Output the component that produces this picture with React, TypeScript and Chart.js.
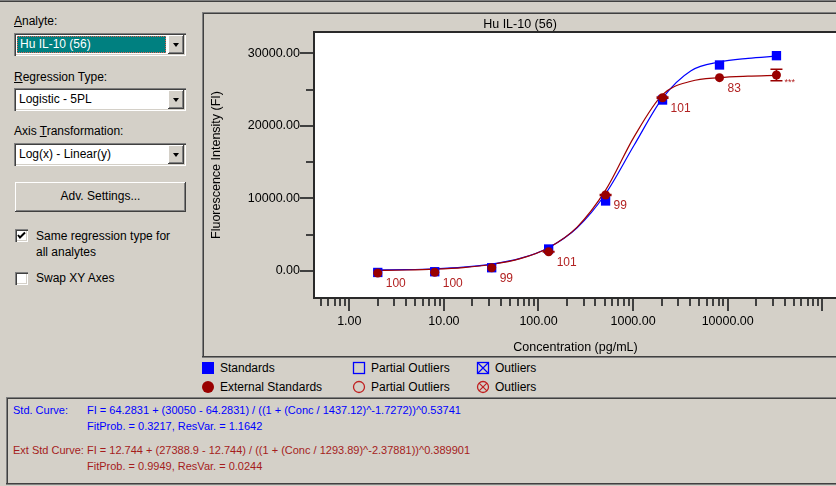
import React, { useEffect, useRef } from 'react';
import { Chart, registerables } from 'chart.js';

Chart.register(...registerables);

// ---------- data ----------
const concentrations = [2, 8, 32, 128, 512, 2048, 8192, 32768];
const standardsFI = [-200, -100, 450, 3030, 9650, 23560, 28390, 29670];
const externalFI = [-280, -180, 455, 2660, 10470, 23880, 26640, 27010];
const externalErr = [0, 0, 0, 40, 60, 80, 0, 800];
const recoveryLabels = ['100', '100', '99', '101', '99', '101', '83', '***'];

const curveConc = [1.8, 4, 8, 16, 32, 64, 128, 256, 512, 1024, 2048, 4096, 8192, 16384, 32768];
const stdCurveFI = [125, 192, 307, 525, 942, 1730, 3216, 5952, 10648, 17321, 23821, 27600, 28800, 29300, 29600];
const extCurveFI = [74, 141, 257, 478, 898, 1696, 3211, 6055, 11136, 18482, 24300, 26150, 26650, 26850, 26950];

const xMajorTicks = [1, 10, 100, 1000, 10000, 100000];
const xLabeledTicks = [1, 10, 100, 1000, 10000];
const xMinorMultipliers = [2, 3, 4, 5, 6, 7, 8, 9];
const xDecades = [0.1, 1, 10, 100, 1000, 10000];
const yMajorTicks = [0, 10000, 20000, 30000];
const yMinorTicks = [5000, 15000, 25000];

const X_MIN = 0.434;
const X_MAX = 139600;
const Y_MIN = -3583;
const Y_MAX = 32796;

const FONT = '"Liberation Sans", Arial, sans-serif';
const FACE = '#d4d0c8';
const DARK = '#404040';
const SHADOW = '#808080';
const STD_BLUE = '#0000ff';
const EXT_RED = '#990000';
const LABEL_RED = '#b22222';

function buildXTicks() {
  const list: { value: number; major: boolean }[] = [];
  xMajorTicks.forEach((v) => {
    if (v >= X_MIN && v <= X_MAX) list.push({ value: v, major: true });
  });
  xDecades.forEach((d) => {
    xMinorMultipliers.forEach((m) => {
      const v = d * m;
      if (v >= X_MIN && v <= X_MAX) list.push({ value: v, major: false });
    });
  });
  list.sort((a, b) => a.value - b.value);
  return list;
}

function buildYTicks() {
  const list: { value: number; major: boolean }[] = [];
  yMajorTicks.forEach((v) => list.push({ value: v, major: true }));
  yMinorTicks.forEach((v) => list.push({ value: v, major: false }));
  list.sort((a, b) => a.value - b.value);
  return list;
}

const framePlugin = {
  id: 'frame',
  beforeDraw(chart: any) {
    const { ctx, chartArea } = chart;
    ctx.save();
    ctx.fillStyle = FACE;
    ctx.fillRect(0, 0, chart.width, chart.height);
    ctx.fillStyle = '#ffffff';
    ctx.fillRect(chartArea.left, chartArea.top, chartArea.right - chartArea.left, chartArea.bottom - chartArea.top);
    ctx.restore();
  },
  afterDatasetsDraw(chart: any) {
    const { ctx } = chart;
    const xs = chart.scales.x;
    const ys = chart.scales.y;
    ctx.save();
    ctx.strokeStyle = EXT_RED;
    ctx.lineWidth = 1.5;
    concentrations.forEach((c, i) => {
      const e = externalErr[i];
      if (!e) return;
      const px = xs.getPixelForValue(c);
      const y1 = ys.getPixelForValue(externalFI[i] - e);
      const y2 = ys.getPixelForValue(externalFI[i] + e);
      ctx.beginPath();
      ctx.moveTo(px, y1);
      ctx.lineTo(px, y2);
      ctx.moveTo(px - 6, y1);
      ctx.lineTo(px + 6, y1);
      ctx.moveTo(px - 6, y2);
      ctx.lineTo(px + 6, y2);
      ctx.stroke();
    });
    ctx.restore();
  },
  afterDraw(chart: any) {
    const { ctx, chartArea } = chart;
    const { left, top, right, bottom } = chartArea;
    const xs = chart.scales.x;
    const ys = chart.scales.y;
    ctx.save();
    // plot box border
    ctx.fillStyle = '#2a2a2a';
    ctx.fillRect(left - 2, top - 2, right - left + 4, 2);
    ctx.fillRect(left - 2, top - 2, 2, bottom - top + 4);
    ctx.fillRect(left - 2, bottom, right - left + 4, 2);
    // tick marks
    ctx.fillStyle = DARK;
    buildXTicks().forEach((t) => {
      const px = Math.round(xs.getPixelForValue(t.value));
      ctx.fillRect(px - 1, bottom + 2, 2, t.major ? 12 : 7);
    });
    buildYTicks().forEach((t) => {
      const py = Math.round(ys.getPixelForValue(t.value));
      const len = t.major ? 13 : 7;
      ctx.fillRect(left - 2 - len, py - 1, len, 2);
    });
    // recovery labels
    ctx.fillStyle = LABEL_RED;
    ctx.textAlign = 'left';
    ctx.textBaseline = 'middle';
    concentrations.forEach((c, i) => {
      const px = xs.getPixelForValue(c);
      const py = ys.getPixelForValue(externalFI[i]);
      const txt = recoveryLabels[i];
      if (txt === '***') {
        ctx.font = '9px ' + FONT;
        ctx.fillText(txt, px + 8, py + 8);
      } else {
        ctx.font = '12px ' + FONT;
        ctx.fillText(txt, px + 8, py + 11);
      }
    });
    ctx.restore();
  },
};

function ChartPanel() {
  const canvasRef = useRef<HTMLCanvasElement>(null);
  useEffect(() => {
    const canvas = canvasRef.current;
    if (!canvas) return;
    Chart.defaults.font.family = FONT;
    const xTicks = buildXTicks();
    const yTicks = buildYTicks();
    const chart = new Chart(canvas, {
      type: 'scatter',
      data: {
        datasets: [
          {
            type: 'scatter',
            label: 'External Standards',
            data: concentrations.map((c, i) => ({ x: c, y: externalFI[i] })),
            pointStyle: 'circle',
            pointRadius: 4.5,
            backgroundColor: EXT_RED,
            borderColor: EXT_RED,
            borderWidth: 0,
          },
          {
            type: 'scatter',
            label: 'Standards',
            data: concentrations.map((c, i) => ({ x: c, y: standardsFI[i] })),
            pointStyle: 'rect',
            pointRadius: 6.6,
            backgroundColor: STD_BLUE,
            borderColor: STD_BLUE,
            borderWidth: 0,
          },
          {
            type: 'line',
            label: 'Ext Std Curve',
            data: curveConc.map((c, i) => ({ x: c, y: extCurveFI[i] })),
            borderColor: '#a00000',
            borderWidth: 1.2,
            pointRadius: 0,
            cubicInterpolationMode: 'monotone',
            fill: false,
          },
          {
            type: 'line',
            label: 'Std Curve',
            data: curveConc.map((c, i) => ({ x: c, y: stdCurveFI[i] })),
            borderColor: STD_BLUE,
            borderWidth: 1.2,
            pointRadius: 0,
            cubicInterpolationMode: 'monotone',
            fill: false,
          },
        ],
      } as any,
      options: {
        animation: false,
        responsive: false,
        events: [],
        layout: { padding: { left: 0, right: 28, top: 0, bottom: 0 } },
        plugins: {
          legend: { display: false },
          tooltip: { enabled: false },
          title: {
            display: true,
            text: 'Hu IL-10 (56)',
            color: '#000',
            font: { size: 12.5, weight: 'normal', family: FONT },
            padding: { top: 3, bottom: 1 },
          },
        },
        scales: {
          x: {
            type: 'logarithmic',
            min: X_MIN,
            max: X_MAX,
            afterBuildTicks: (s: any) => {
              s.ticks = xTicks.map((t) => ({ value: t.value, major: t.major }));
            },
            afterFit: (s: any) => {
              s.height = 59;
            },
            ticks: {
              autoSkip: false,
              maxRotation: 0,
              minRotation: 0,
              padding: 0,
              color: '#000',
              font: { size: 12.5 },
              callback: (v: any) => (xLabeledTicks.indexOf(Number(v)) >= 0 ? Number(v).toFixed(2) : ''),
            },
            grid: { display: true, drawOnChartArea: false, drawTicks: true, tickLength: 17, color: 'rgba(0,0,0,0)' },
            border: { display: false },
            title: {
              display: true,
              text: 'Concentration (pg/mL)',
              color: '#000',
              font: { size: 12.5 },
              padding: { top: 0, bottom: 0.5 },
            },
          },
          y: {
            type: 'linear',
            min: Y_MIN,
            max: Y_MAX,
            afterBuildTicks: (s: any) => {
              s.ticks = yTicks.map((t) => ({ value: t.value, major: t.major }));
            },
            afterFit: (s: any) => {
              s.width = 111;
            },
            ticks: {
              autoSkip: false,
              padding: 0,
              color: '#000',
              font: { size: 12.5 },
              callback: (v: any) => (yMajorTicks.indexOf(Number(v)) >= 0 ? Number(v).toFixed(2) : ''),
            },
            grid: { display: true, drawOnChartArea: false, drawTicks: true, tickLength: 15, color: 'rgba(0,0,0,0)' },
            border: { display: false },
            title: {
              display: true,
              text: 'Fluorescence Intensity (FI)',
              color: '#000',
              font: { size: 12.5 },
              padding: { top: 5.5, bottom: 0 },
            },
          },
        },
      } as any,
      plugins: [framePlugin],
    });
    return () => chart.destroy();
  }, []);
  return (
    <div style={{ position: 'absolute', left: 204, top: 14, width: 632, height: 342, overflow: 'hidden' }}>
      <canvas ref={canvasRef} width={660} height={342} style={{ width: 660, height: 342, display: 'block' }} />
    </div>
  );
}

const box = (l: number, t: number, w: number, h: number, bg: string) => (
  <div style={{ position: 'absolute', left: l, top: t, width: w, height: h, background: bg }} />
);

function Text(props: { left: number; cy: number; children: any; color?: string; size?: number }) {
  const lh = 14;
  return (
    <div
      style={{
        position: 'absolute',
        left: props.left,
        top: props.cy - lh / 2,
        lineHeight: lh + 'px',
        whiteSpace: 'nowrap',
        color: props.color || '#000',
        fontSize: props.size || 12,
      }}
    >
      {props.children}
    </div>
  );
}

const SUNKEN = 'inset 1px 1px ' + SHADOW + ', inset 2px 2px ' + DARK + ', inset -1px -1px #ffffff, inset -2px -2px ' + FACE;
const RAISED = 'inset -1px -1px ' + DARK + ', inset 1px 1px #ffffff, inset -2px -2px ' + SHADOW + ', inset 2px 2px ' + FACE;

function Combo(props: { top: number; text: string; selected?: boolean }) {
  return (
    <div style={{ position: 'absolute', left: 14, top: props.top, width: 172, height: 23, background: '#fff', boxShadow: SUNKEN }}>
      {props.selected ? (
        <div
          style={{
            position: 'absolute',
            left: 3,
            top: 3,
            width: 149,
            height: 17,
            background: '#008080',
            color: '#fff',
            boxSizing: 'border-box',
            border: '1px dotted #e06050',
            lineHeight: '15px',
            paddingLeft: 2,
            whiteSpace: 'nowrap',
          }}
        >
          {props.text}
        </div>
      ) : (
        <div style={{ position: 'absolute', left: 5, top: 3, lineHeight: '17px', whiteSpace: 'nowrap' }}>{props.text}</div>
      )}
      <div style={{ position: 'absolute', right: 2, top: 2, width: 16, height: 19, background: FACE, boxShadow: RAISED }}>
        <div
          style={{
            position: 'absolute',
            left: 4.5,
            top: 8,
            width: 0,
            height: 0,
            borderLeft: '3.5px solid transparent',
            borderRight: '3.5px solid transparent',
            borderTop: '4px solid #000',
          }}
        />
      </div>
    </div>
  );
}

function CheckBox(props: { top: number; checked?: boolean }) {
  return (
    <div style={{ position: 'absolute', left: 15, top: props.top, width: 13, height: 13, background: '#fff', boxShadow: SUNKEN }}>
      {props.checked ? (
        <svg width={13} height={13} style={{ position: 'absolute', left: 0, top: 0 }}>
          <path d="M3 6 L5 8.5 L10 3.5" stroke="#000" strokeWidth={2} fill="none" />
        </svg>
      ) : null}
    </div>
  );
}

function Legend() {
  const r1 = 368;
  const r2 = 387;
  return (
    <>
      <svg width={836} height={40} style={{ position: 'absolute', left: 0, top: 360 }}>
        <rect x={202} y={2} width={12} height={12} fill={STD_BLUE} />
        <rect x={353.5} y={2.5} width={11} height={11} fill="none" stroke={STD_BLUE} strokeWidth={1.3} />
        <rect x={477.5} y={2.5} width={11} height={11} fill="none" stroke={STD_BLUE} strokeWidth={1.3} />
        <path d="M477.5 2.5 L488.5 13.5 M488.5 2.5 L477.5 13.5" stroke={STD_BLUE} strokeWidth={1.2} />
        <circle cx={208} cy={27} r={6} fill={EXT_RED} />
        <circle cx={359} cy={27} r={5.5} fill="none" stroke="#c02020" strokeWidth={1.3} />
        <circle cx={483} cy={27} r={5.5} fill="none" stroke="#c02020" strokeWidth={1.3} />
        <path d="M479.1 23.1 L486.9 30.9 M486.9 23.1 L479.1 30.9" stroke="#c02020" strokeWidth={1.2} />
      </svg>
      <Text left={220} cy={r1}>Standards</Text>
      <Text left={371} cy={r1}>Partial Outliers</Text>
      <Text left={495} cy={r1}>Outliers</Text>
      <Text left={220} cy={r2}>External Standards</Text>
      <Text left={371} cy={r2}>Partial Outliers</Text>
      <Text left={495} cy={r2}>Outliers</Text>
    </>
  );
}

function Equations() {
  const blue = '#0000ff';
  const red = '#a51c1c';
  return (
    <>
      {box(6, 397, 830, 1, SHADOW)}
      {box(6, 398, 830, 1, DARK)}
      {box(6, 397, 1, 88, SHADOW)}
      {box(7, 398, 1, 87, DARK)}
      {box(6, 483, 830, 1, DARK)}
      {box(6, 484, 830, 1, SHADOW)}
      <Text left={13} cy={410} color={blue} size={11}>Std. Curve:</Text>
      <Text left={87} cy={410} color={blue} size={11}>FI = 64.2831 + (30050 - 64.2831) / ((1 + (Conc / 1437.12)^-1.7272))^0.53741</Text>
      <Text left={87} cy={426} color={blue} size={11}>FitProb. = 0.3217, ResVar. = 1.1642</Text>
      <Text left={13} cy={450} color={red} size={11}>Ext Std Curve:</Text>
      <Text left={87} cy={450} color={red} size={11}>FI = 12.744 + (27388.9 - 12.744) / ((1 + (Conc / 1293.89)^-2.37881))^0.389901</Text>
      <Text left={87} cy={466} color={red} size={11}>FitProb. = 0.9949, ResVar. = 0.0244</Text>
    </>
  );
}

export default function App() {
  return (
    <div
      style={{
        position: 'fixed',
        left: 0,
        top: 0,
        width: 836,
        height: 486,
        background: FACE,
        overflow: 'hidden',
        fontFamily: FONT,
        fontSize: 12,
        color: '#000',
      }}
    >
      {box(0, 0, 836, 1, SHADOW)}
      {box(0, 1, 836, 1, DARK)}

      {/* left control panel */}
      <Text left={14} cy={21}><u>A</u>nalyte:</Text>
      <Combo top={33} text="Hu IL-10 (56)" selected />
      <Text left={14} cy={77}><u>R</u>egression Type:</Text>
      <Combo top={88} text="Logistic - 5PL" />
      <Text left={14} cy={131}>Axis <u>T</u>ransformation:</Text>
      <Combo top={143} text="Log(x) - Linear(y)" />
      <div
        style={{
          position: 'absolute',
          left: 15,
          top: 182,
          width: 171,
          height: 30,
          background: FACE,
          boxShadow: RAISED,
          textAlign: 'center',
          lineHeight: '29px',
        }}
      >
        Adv. Settings...
      </div>
      <CheckBox top={229} checked />
      <Text left={36} cy={236}>Same regression type for</Text>
      <Text left={36} cy={252}>all analytes</Text>
      <CheckBox top={272} />
      <Text left={36} cy={278}>Swap XY Axes</Text>

      {/* chart frame */}
      {box(202, 12, 634, 1, SHADOW)}
      {box(203, 13, 633, 1, DARK)}
      {box(202, 12, 1, 346, SHADOW)}
      {box(203, 13, 1, 344, DARK)}
      {box(202, 356, 634, 1, DARK)}
      {box(202, 357, 634, 1, SHADOW)}
      <ChartPanel />

      <Legend />
      <Equations />
    </div>
  );
}
